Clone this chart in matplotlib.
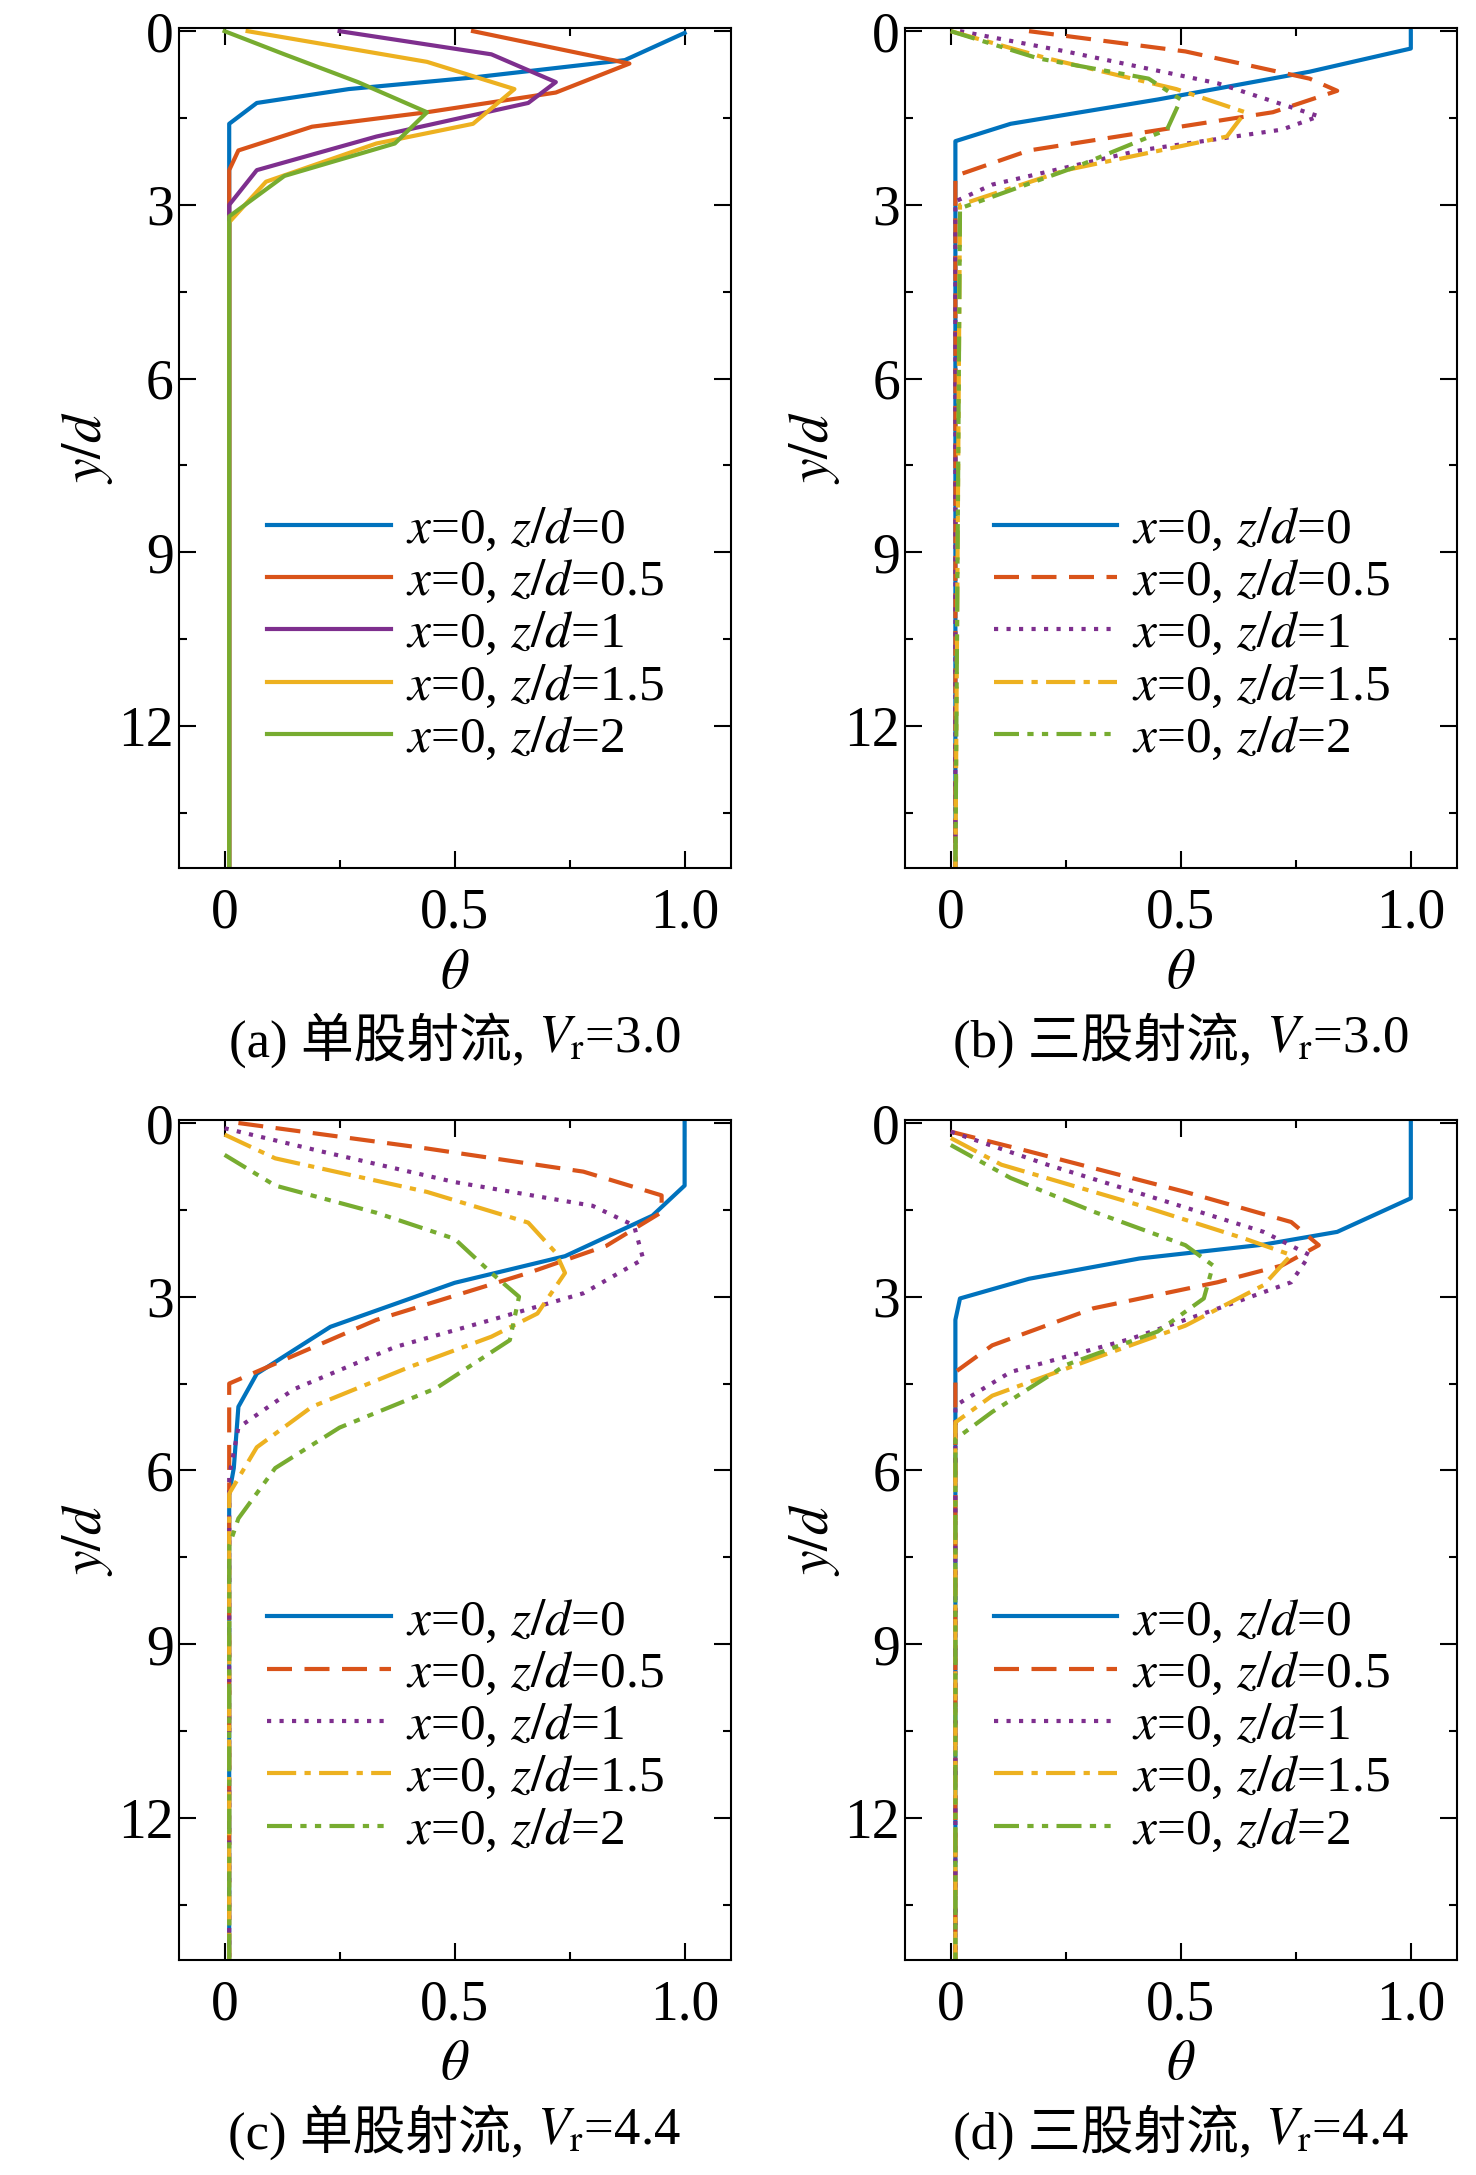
import matplotlib
matplotlib.use("Agg")
import matplotlib.pyplot as plt
from matplotlib.ticker import MultipleLocator

plt.rcParams['font.family'] = ['Liberation Serif', 'Noto Sans CJK SC']
plt.rcParams['mathtext.fontset'] = 'stix'

colors = ['#0072BD', '#D95319', '#7E2F8E', '#EDB120', '#77AC30']
labels = ['$x$=0, $z/d$=0', '$x$=0, $z/d$=0.5', '$x$=0, $z/d$=1',
          '$x$=0, $z/d$=1.5', '$x$=0, $z/d$=2']
cap_text = ['(a) 单股射流, ', '(b) 三股射流, ', '(c) 单股射流, ', '(d) 三股射流, ']
cap_vr = ['$V_\\mathrm{r}$=3.0', '$V_\\mathrm{r}$=3.0', '$V_\\mathrm{r}$=4.4', '$V_\\mathrm{r}$=4.4']

# panel (a): (theta, y/d) points
a_theta = [
    [1.0, 0.87, 0.54, 0.27, 0.07, 0.01, 0.01, 0.01],
    [0.54, 0.88, 0.72, 0.44, 0.19, 0.03, 0.01, 0.01],
    [0.25, 0.58, 0.72, 0.66, 0.33, 0.07, 0.01, 0.01],
    [0.05, 0.44, 0.63, 0.54, 0.33, 0.09, 0.01, 0.01],
    [0.0, 0.13, 0.29, 0.44, 0.37, 0.13, 0.01, 0.01],
]
a_y = [
    [0.03, 0.5, 0.8, 1.0, 1.24, 1.6, 6.0, 14.5],
    [0.0, 0.56, 1.06, 1.4, 1.65, 2.06, 2.4, 14.5],
    [0.0, 0.4, 0.88, 1.24, 1.82, 2.4, 3.0, 14.5],
    [0.0, 0.53, 1.0, 1.6, 1.94, 2.6, 3.3, 14.5],
    [0.0, 0.4, 0.88, 1.4, 1.94, 2.5, 3.2, 14.5],
]
# panel (b)
b_theta = [
    [1.0, 1.0, 0.78, 0.45, 0.13, 0.01, 0.01],
    [0.17, 0.51, 0.78, 0.84, 0.7, 0.41, 0.17, 0.01, 0.01],
    [0.02, 0.25, 0.58, 0.8, 0.72, 0.41, 0.09, 0.01, 0.01],
    [0.0, 0.21, 0.49, 0.64, 0.6, 0.25, 0.02, 0.01],
    [0.0, 0.19, 0.43, 0.5, 0.47, 0.27, 0.02, 0.01],
]
b_y = [
    [0.0, 0.3, 0.7, 1.18, 1.6, 1.9, 14.5],
    [0.0, 0.35, 0.82, 1.03, 1.4, 1.76, 2.06, 2.5, 14.5],
    [0.0, 0.35, 0.9, 1.47, 1.7, 2.06, 2.65, 2.94, 14.5],
    [0.0, 0.47, 1.0, 1.4, 1.82, 2.4, 3.0, 14.5],
    [0.0, 0.47, 0.82, 1.18, 1.7, 2.35, 3.06, 14.5],
]
# panel (c)
c_theta = [
    [1.0, 1.0, 0.93, 0.74, 0.5, 0.23, 0.07, 0.03, 0.02, 0.01, 0.01],
    [0.03, 0.44, 0.78, 0.95, 0.95, 0.83, 0.66, 0.33, 0.01, 0.01, 0.01],
    [0.0, 0.21, 0.5, 0.8, 0.89, 0.91, 0.78, 0.58, 0.37, 0.15, 0.03, 0.01, 0.01],
    [0.0, 0.11, 0.44, 0.66, 0.72, 0.74, 0.68, 0.58, 0.4, 0.19, 0.07, 0.01, 0.01],
    [0.0, 0.11, 0.33, 0.5, 0.58, 0.64, 0.62, 0.46, 0.25, 0.11, 0.03, 0.01, 0.01],
]
c_y = [
    [0.0, 1.08, 1.6, 2.3, 2.76, 3.52, 4.33, 4.9, 5.96, 6.4, 14.5],
    [0.0, 0.44, 0.84, 1.25, 1.54, 2.12, 2.59, 3.4, 4.5, 5.5, 14.5],
    [0.09, 0.49, 1.02, 1.43, 1.77, 2.35, 2.94, 3.4, 3.87, 4.6, 5.26, 6.1, 14.5],
    [0.2, 0.61, 1.19, 1.72, 2.24, 2.59, 3.29, 3.69, 4.22, 4.9, 5.6, 6.4, 14.5],
    [0.55, 1.08, 1.55, 2.0, 2.59, 3.0, 3.75, 4.58, 5.26, 5.96, 6.83, 7.3, 14.5],
]
# panel (d)
d_theta = [
    [1.0, 1.0, 0.84, 0.68, 0.41, 0.17, 0.02, 0.01, 0.01],
    [0.0, 0.17, 0.51, 0.74, 0.8, 0.72, 0.58, 0.31, 0.09, 0.01, 0.01],
    [0.0, 0.21, 0.47, 0.68, 0.78, 0.74, 0.6, 0.39, 0.13, 0.01, 0.01],
    [0.0, 0.11, 0.41, 0.64, 0.74, 0.68, 0.51, 0.31, 0.09, 0.01, 0.01],
    [0.0, 0.13, 0.31, 0.51, 0.57, 0.55, 0.45, 0.25, 0.09, 0.01, 0.01],
]
d_y = [
    [0.0, 1.3, 1.88, 2.1, 2.34, 2.69, 3.03, 3.4, 14.5],
    [0.15, 0.49, 1.19, 1.71, 2.11, 2.46, 2.75, 3.2, 3.84, 4.3, 14.5],
    [0.15, 0.72, 1.36, 1.88, 2.28, 2.75, 3.15, 3.73, 4.3, 4.88, 14.5],
    [0.26, 0.72, 1.42, 2.0, 2.28, 2.8, 3.5, 4.07, 4.71, 5.17, 14.5],
    [0.38, 0.95, 1.53, 2.11, 2.46, 3.03, 3.6, 4.18, 4.99, 5.46, 14.5],
]

solid = ['-'] * 5
styled = ['-', (0, (6, 3)), (0, (1, 2)), (0, (7, 2, 1.5, 2)), (0, (6, 2, 1.5, 2, 1.5, 2))]

panels = [(a_theta, a_y, solid), (b_theta, b_y, styled),
          (c_theta, c_y, styled), (d_theta, d_y, styled)]
rects = [[0.121, 0.601, 0.374, 0.386], [0.613, 0.601, 0.374, 0.386],
         [0.121, 0.099, 0.374, 0.386], [0.613, 0.099, 0.374, 0.386]]

fig = plt.figure(figsize=(14.76, 21.75), dpi=100)
for i, (th, yy, ls) in enumerate(panels):
    ax = fig.add_axes(rects[i])
    for k in range(5):
        ax.plot(th[k], yy[k], color=colors[k], linestyle=ls[k], lw=3, label=labels[k])
    ax.set_xlim(-0.1, 1.1)
    ax.set_ylim(14.45, -0.05)
    ax.xaxis.set_minor_locator(MultipleLocator(0.25))
    ax.yaxis.set_major_locator(MultipleLocator(3))
    ax.yaxis.set_minor_locator(MultipleLocator(1.5))
    ax.set_xticks([0, 0.5, 1.0])
    ax.set_xticklabels(['0', '0.5', '1.0'])
    ax.tick_params(which='both', direction='in', top=True, right=True, labelsize=40, width=1.5)
    ax.tick_params(which='major', length=12)
    ax.tick_params(which='minor', length=6)
    ax.tick_params(axis='x', pad=14)
    for s in ax.spines.values():
        s.set_linewidth(1.5)
    ax.set_xlabel('$\\theta$', fontsize=40, labelpad=6)
    ax.set_ylabel('$y/d$', fontsize=40, labelpad=2)
    ax.legend(loc='lower center', bbox_to_anchor=(0.52, 0.07), frameon=False,
              fontsize=37, handlelength=2.4, labelspacing=0.1, handletextpad=0.3)
    # caption: Chinese text and math part drawn separately so the CJK font is used
    t1 = ax.text(0.5, -0.205, cap_text[i], transform=ax.transAxes, ha='right',
                 va='center', fontsize=38)
    ax.annotate(cap_vr[i], xy=(1, 0.5), xycoords=t1, va='center', ha='left',
                fontsize=38)

fig.canvas.draw()
# recentre each caption pair under its axes
for ax in fig.axes:
    texts = [t for t in ax.texts] + [c for c in ax.get_children()
                                     if isinstance(c, matplotlib.text.Annotation)]
    t1 = ax.texts[0]
    ann = [c for c in ax.get_children() if isinstance(c, matplotlib.text.Annotation)][0]
    r = fig.canvas.get_renderer()
    w = t1.get_window_extent(r).width + ann.get_window_extent(r).width
    axw = ax.get_window_extent(r).width
    t1.set_position((0.5 + (t1.get_window_extent(r).width - w / 2) / axw, -0.205))

fig.savefig('out.png', dpi=100)
